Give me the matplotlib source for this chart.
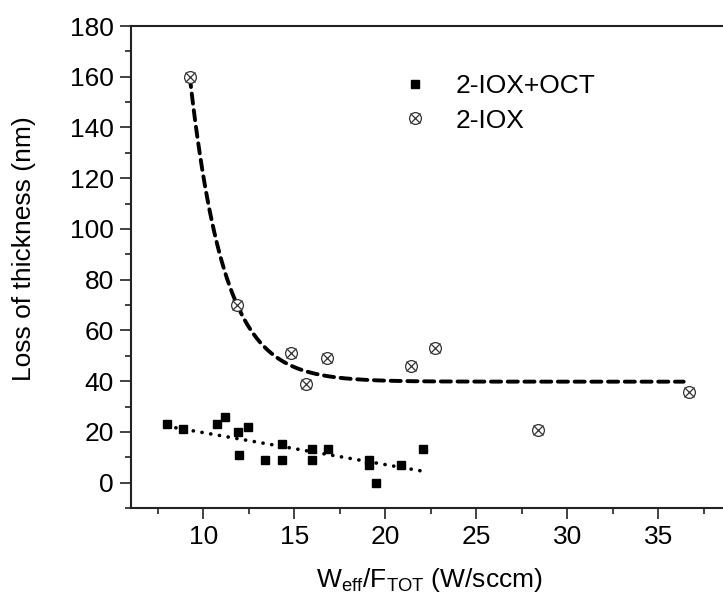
import numpy as np
import matplotlib
matplotlib.use("Agg")
import matplotlib.pyplot as plt
from matplotlib.legend_handler import HandlerTuple

plt.rcParams['font.family'] = ['Liberation Sans', 'DejaVu Sans']
plt.rcParams['mathtext.fontset'] = 'custom'
plt.rcParams['mathtext.rm'] = 'Liberation Sans'
plt.rcParams['mathtext.it'] = 'Liberation Sans'

# --- data: 2-IOX+OCT (filled squares)
oct_x = [7.97, 8.85, 10.77, 11.17, 11.9, 12.46, 11.94, 13.37, 14.33, 14.33,
         15.94, 15.94, 16.86, 19.09, 19.09, 19.51, 20.85, 22.08]
oct_y = [23.0, 21.0, 23.0, 26.0, 20.1, 22.1, 11.0, 9.0, 9.0, 15.1,
         13.2, 9.0, 13.2, 9.0, 7.0, 0.0, 7.0, 13.2]

# --- data: 2-IOX (circle with cross)
iox_x = [9.25, 11.85, 14.8, 15.65, 16.8, 21.43, 22.75, 28.4, 36.7]
iox_y = [159.9, 70.1, 51.0, 39.0, 49.0, 46.0, 53.1, 20.7, 35.9]

# --- fitted curves (parameters)
lin_intercept, lin_slope = 32.3, -1.26
lin_range = (8.0, 22.0)
exp_y0, exp_a, exp_xref, exp_t = 39.8, 120.1, 9.25, 1.888
exp_range = (9.25, 36.4)

xticks = [10, 15, 20, 25, 30, 35]
yticks = [0, 20, 40, 60, 80, 100, 120, 140, 160, 180]

FS = 19

fig = plt.figure(figsize=(7.23, 6.0), dpi=100)
ax_left, ax_right, ax_bottom, ax_top = 130.7, 731.0, 508.0, 26.0
ax = fig.add_axes([ax_left / 723, 1 - ax_bottom / 600,
                   (ax_right - ax_left) / 723, (ax_bottom - ax_top) / 600])
ax.set_xlim(6, 39)
ax.set_ylim(-10, 180)

# fit lines
xl = np.linspace(*lin_range, 50)
ax.plot(xl, lin_intercept + lin_slope * xl, color='black', lw=2.6,
        linestyle=(0, (0.05, 2.4)), dash_capstyle='round', zorder=2)
xe = np.linspace(*exp_range, 400)
ax.plot(xe, exp_y0 + exp_a * np.exp(-(xe - exp_xref) / exp_t), color='black',
        lw=2.8, linestyle=(0, (2.6, 1.7)), dash_capstyle='round', zorder=2)

# markers
h_sq, = ax.plot(oct_x, oct_y, linestyle='none', marker='s', ms=6.2,
                color='black', zorder=3)
h_c, = ax.plot(iox_x, iox_y, linestyle='none', marker='o', ms=8.5,
               mfc='white', mec='#333333', mew=0.9, zorder=3)
h_x, = ax.plot(iox_x, iox_y, linestyle='none', marker='x', ms=7.5,
               mec='#333333', mew=0.9, zorder=4)

ax.set_xticks(xticks)
ax.set_yticks(yticks)
ax.set_xticks(np.arange(7.5, 39, 5), minor=True)
ax.set_yticks(np.arange(-10, 181, 20), minor=True)
ax.tick_params(which='major', direction='out', length=8, width=1.2,
               labelsize=FS, pad=4, color='#222222')
ax.tick_params(which='minor', direction='out', length=4, width=1.2,
               color='#222222')
for s in ax.spines.values():
    s.set_linewidth(1.5)
    s.set_color('#222222')

ax.set_xlabel(r'W$_{\mathrm{eff}}$/F$_{\mathrm{TOT}}$ (W/sccm)', fontsize=FS)
ax.set_ylabel('Loss of thickness (nm)', fontsize=FS)
ax.xaxis.set_label_coords(0.497, -0.12)
ax.yaxis.set_label_coords(-0.157, 0.539)

leg = ax.legend([h_sq, (h_c, h_x)], ['2-IOX+OCT', '2-IOX'],
                handler_map={tuple: HandlerTuple(ndivide=1, pad=0)},
                loc='upper left', bbox_to_anchor=(403 / 723, 526 / 600),
                bbox_transform=fig.transFigure, frameon=False, fontsize=FS,
                handlelength=0.9, handletextpad=1.1, labelspacing=0.4,
                borderpad=0, borderaxespad=0)

fig.savefig('out.png', dpi=100)
